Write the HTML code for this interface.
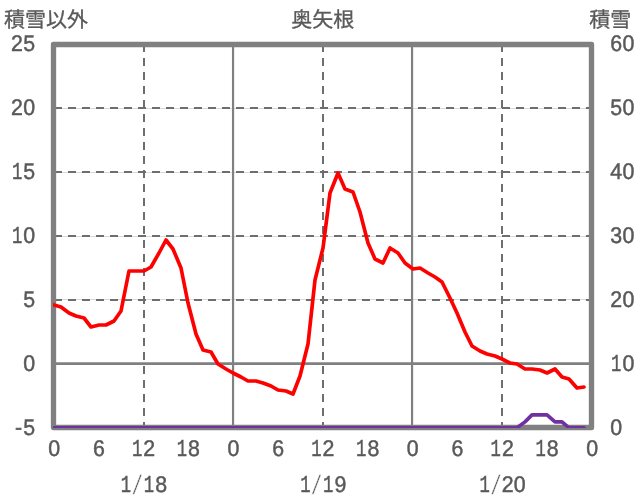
<!DOCTYPE html>
<html lang="ja"><head><meta charset="utf-8"><title>奥矢根</title>
<style>html,body{margin:0;padding:0;background:#fff;}body{width:636px;height:501px;overflow:hidden;}svg{display:block;will-change:transform;}text{font-family:"Liberation Sans",sans-serif;font-size:21.33px;fill:#595959;stroke:#595959;stroke-width:0.45;text-rendering:geometricPrecision;}.m{font-family:"Liberation Mono",monospace;font-size:23.0px;}.sl{font-family:"Liberation Mono",monospace;font-size:25.5px;stroke:#fff;stroke-width:0.45;}.cjk{font-family:"Liberation Sans","Noto Sans CJK JP",sans-serif;font-size:21px;stroke-width:0.3;}</style>
</head><body>
<svg width="636" height="501" viewBox="0 0 636 501">
<rect width="636" height="501" fill="#fff"/>
<defs><clipPath id="plot"><rect x="53.00" y="44.00" width="539.00" height="384.00"/></clipPath></defs>
<g fill="none">
<line x1="53.50" y1="108.50" x2="591.50" y2="108.50" stroke="#dadada" stroke-width="1"/>
<line x1="54.00" y1="108" x2="591.50" y2="108" stroke="#6e6e6e" stroke-width="2" stroke-dasharray="8 6"/>
<line x1="53.50" y1="172.50" x2="591.50" y2="172.50" stroke="#dadada" stroke-width="1"/>
<line x1="54.00" y1="172" x2="591.50" y2="172" stroke="#6e6e6e" stroke-width="2" stroke-dasharray="8 6"/>
<line x1="53.50" y1="236.50" x2="591.50" y2="236.50" stroke="#dadada" stroke-width="1"/>
<line x1="54.00" y1="236" x2="591.50" y2="236" stroke="#6e6e6e" stroke-width="2" stroke-dasharray="8 6"/>
<line x1="53.50" y1="299.50" x2="591.50" y2="299.50" stroke="#dadada" stroke-width="1"/>
<line x1="54.00" y1="300" x2="591.50" y2="300" stroke="#6e6e6e" stroke-width="2" stroke-dasharray="8 6"/>
<line x1="53.50" y1="363.67" x2="591.50" y2="363.67" stroke="#808080" stroke-width="2.67"/>
<line x1="144" y1="44.00" x2="144" y2="427.50" stroke="#6e6e6e" stroke-width="2" stroke-dasharray="8 6"/>
<line x1="323" y1="44.00" x2="323" y2="427.50" stroke="#6e6e6e" stroke-width="2" stroke-dasharray="8 6"/>
<line x1="502" y1="44.00" x2="502" y2="427.50" stroke="#6e6e6e" stroke-width="2" stroke-dasharray="8 6"/>
<line x1="233.05" y1="44.50" x2="233.05" y2="427.50" stroke="#808080" stroke-width="2.2"/>
<line x1="412.05" y1="44.50" x2="412.05" y2="427.50" stroke="#808080" stroke-width="2.2"/>
<rect x="53.50" y="44.50" width="538.00" height="383.00" stroke="#808080" stroke-width="5.33" stroke-linejoin="round"/>
<g clip-path="url(#plot)" stroke-linejoin="round" stroke-linecap="round">
<polyline points="54,427.80 61,427.80 69,427.80 76,427.80 84,427.80 91,427.80 99,427.80 106,427.80 114,427.80 121,427.80 129,427.80 136,427.80 144,427.80 151,427.80 159,427.80 166,427.80 173,427.80 181,427.80 188,427.80 196,427.80 203,427.80 211,427.80 218,427.80 226,427.80 233,427.80 241,427.80 248,427.80 256,427.80 263,427.80 271,427.80 278,427.80 286,427.80 293,427.80 300,427.80 308,427.80 315,427.80 323,427.80 330,427.80 338,427.80 345,427.80 353,427.80 360,427.80 368,427.80 375,427.80 383,427.80 390,427.80 398,427.80 405,427.80 413,427.80 420,427.80 428,427.80 435,427.80 442,427.80 450,427.80 457,427.80 465,427.80 472,427.80 480,427.80 487,427.80 495,427.80 502,427.80 510,427.80 517,427.80 525,421.85 532,414.85 540,414.85 547,414.85 555,421.85 562,421.85 569,427.80 577,427.80 584,427.80" stroke="#7030a0" stroke-width="3.67"/>
<polyline points="54,305 61,307 69,313 76,316 84,318 91,327 99,325 106,325 114,321 121,311 129,271 136,271 144,271 151,267 159,253 166,240 173,249 181,268 188,303 196,334 203,350 211,352 218,364 226,369 233,373 241,377 248,381 256,381 263,383 271,386 278,390 286,391 293,394 300,376 308,344 315,280 323,248 330,193 338,173 345,189 353,192 360,212 368,243 375,259 383,263 390,248 398,253 405,263 413,269 420,268 428,273 435,277 442,282 450,298 457,313 465,332 472,346 480,351 487,354 495,356 502,359 510,363 517,364 525,369 532,369 540,370 547,373 555,369 562,377 569,379 577,388 584,387" stroke="#ff0000" stroke-width="3.67"/>
</g>
</g>
<text transform="translate(0 50.55) scale(1 1.060)"><tspan x="11.02" y="0">2</tspan><tspan x="23.34" y="0">5</tspan></text>
<text transform="translate(0 114.55) scale(1 1.060)"><tspan x="11.02" y="0">2</tspan><tspan x="23.32" y="0">0</tspan></text>
<text transform="translate(0 178.55) scale(1 1.060)"><tspan class="m" x="11.92" y="0" textLength="10.35" lengthAdjust="spacingAndGlyphs">1</tspan><tspan x="23.34" y="0">5</tspan></text>
<text transform="translate(0 242.55) scale(1 1.060)"><tspan class="m" x="11.92" y="0" textLength="10.35" lengthAdjust="spacingAndGlyphs">1</tspan><tspan x="23.32" y="0">0</tspan></text>
<text transform="translate(0 306.55) scale(1 1.060)"><tspan x="23.34" y="0">5</tspan></text>
<text transform="translate(0 370.55) scale(1 1.060)"><tspan x="23.32" y="0">0</tspan></text>
<text transform="translate(0 434.55) scale(1 1.060)"><tspan x="15.10" y="0">-</tspan><tspan x="23.34" y="0">5</tspan></text>
<text transform="translate(0 50.55) scale(1 1.060)"><tspan x="610.20" y="0">6</tspan><tspan x="622.62" y="0">0</tspan></text>
<text transform="translate(0 114.55) scale(1 1.060)"><tspan x="610.29" y="0">5</tspan><tspan x="622.62" y="0">0</tspan></text>
<text transform="translate(0 178.55) scale(1 1.060)"><tspan x="610.34" y="0">4</tspan><tspan x="622.62" y="0">0</tspan></text>
<text transform="translate(0 242.55) scale(1 1.060)"><tspan x="610.33" y="0">3</tspan><tspan x="622.62" y="0">0</tspan></text>
<text transform="translate(0 306.55) scale(1 1.060)"><tspan x="610.27" y="0">2</tspan><tspan x="622.62" y="0">0</tspan></text>
<text transform="translate(0 370.55) scale(1 1.060)"><tspan class="m" x="611.02" y="0" textLength="10.35" lengthAdjust="spacingAndGlyphs">1</tspan><tspan x="622.62" y="0">0</tspan></text>
<text transform="translate(0 434.55) scale(1 1.060)"><tspan x="610.27" y="0">0</tspan></text>
<text transform="translate(0 455.55) scale(1 1.060)"><tspan x="48.17" y="0">0</tspan></text>
<text transform="translate(0 455.55) scale(1 1.060)"><tspan x="92.93" y="0">6</tspan></text>
<text transform="translate(0 455.55) scale(1 1.060)"><tspan class="m" x="131.93" y="0" textLength="10.35" lengthAdjust="spacingAndGlyphs">1</tspan><tspan x="143.28" y="0">2</tspan></text>
<text transform="translate(0 455.55) scale(1 1.060)"><tspan class="m" x="176.77" y="0" textLength="10.35" lengthAdjust="spacingAndGlyphs">1</tspan><tspan x="188.12" y="0">8</tspan></text>
<text transform="translate(0 455.55) scale(1 1.060)"><tspan x="227.50" y="0">0</tspan></text>
<text transform="translate(0 455.55) scale(1 1.060)"><tspan x="272.26" y="0">6</tspan></text>
<text transform="translate(0 455.55) scale(1 1.060)"><tspan class="m" x="311.27" y="0" textLength="10.35" lengthAdjust="spacingAndGlyphs">1</tspan><tspan x="322.62" y="0">2</tspan></text>
<text transform="translate(0 455.55) scale(1 1.060)"><tspan class="m" x="356.10" y="0" textLength="10.35" lengthAdjust="spacingAndGlyphs">1</tspan><tspan x="367.45" y="0">8</tspan></text>
<text transform="translate(0 455.55) scale(1 1.060)"><tspan x="406.83" y="0">0</tspan></text>
<text transform="translate(0 455.55) scale(1 1.060)"><tspan x="451.60" y="0">6</tspan></text>
<text transform="translate(0 455.55) scale(1 1.060)"><tspan class="m" x="490.60" y="0" textLength="10.35" lengthAdjust="spacingAndGlyphs">1</tspan><tspan x="501.95" y="0">2</tspan></text>
<text transform="translate(0 455.55) scale(1 1.060)"><tspan class="m" x="535.43" y="0" textLength="10.35" lengthAdjust="spacingAndGlyphs">1</tspan><tspan x="546.78" y="0">8</tspan></text>
<text transform="translate(0 455.55) scale(1 1.060)"><tspan x="586.17" y="0">0</tspan></text>
<text transform="translate(0 491.60) scale(1 1.060)"><tspan class="m" x="120.81" y="0" textLength="10.35" lengthAdjust="spacingAndGlyphs">1</tspan><tspan class="sl" x="131.54" y="1.90" textLength="11.48" lengthAdjust="spacingAndGlyphs">/</tspan><tspan class="m" x="143.71" y="0" textLength="10.35" lengthAdjust="spacingAndGlyphs">1</tspan><tspan x="155.16" y="0">8</tspan></text>
<text transform="translate(0 491.60) scale(1 1.060)"><tspan class="m" x="300.15" y="0" textLength="10.35" lengthAdjust="spacingAndGlyphs">1</tspan><tspan class="sl" x="310.87" y="1.90" textLength="11.48" lengthAdjust="spacingAndGlyphs">/</tspan><tspan class="m" x="323.05" y="0" textLength="10.35" lengthAdjust="spacingAndGlyphs">1</tspan><tspan x="334.50" y="0">9</tspan></text>
<text transform="translate(0 491.60) scale(1 1.060)"><tspan class="m" x="479.48" y="0" textLength="10.35" lengthAdjust="spacingAndGlyphs">1</tspan><tspan class="sl" x="490.20" y="1.90" textLength="11.48" lengthAdjust="spacingAndGlyphs">/</tspan><tspan x="501.63" y="0">2</tspan><tspan x="513.83" y="0">0</tspan></text>
<text class="cjk" x="4" y="27" textLength="84" lengthAdjust="spacingAndGlyphs">積雪以外</text>
<text class="cjk" x="291.2" y="27" textLength="63" lengthAdjust="spacingAndGlyphs">奥矢根</text>
<text class="cjk" x="589.3" y="27" textLength="42" lengthAdjust="spacingAndGlyphs">積雪</text>
</svg></body></html>
